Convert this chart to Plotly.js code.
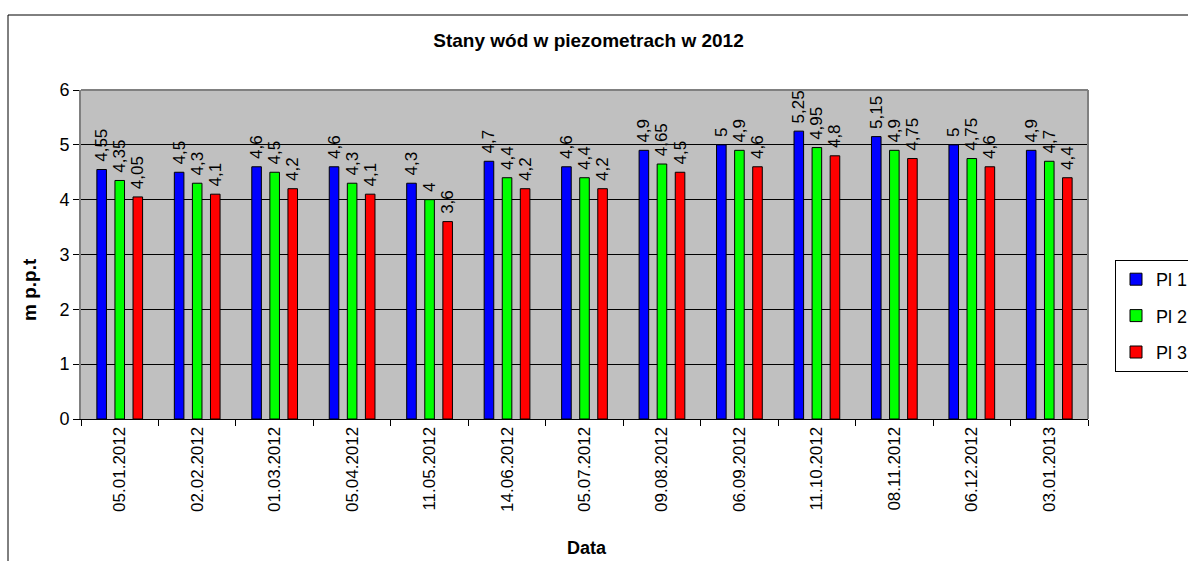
<!DOCTYPE html>
<html>
<head>
<meta charset="utf-8">
<script src="https://cdn.plot.ly/plotly-3.0.1.min.js"></script>
<style>html,body{margin:0;padding:0;background:#fff;}#chart{width:1188px;height:561px;}</style>
</head>
<body>
<div id="chart"></div>
<script>
const categories = ["05.01.2012","02.02.2012","01.03.2012","05.04.2012","11.05.2012","14.06.2012","05.07.2012","09.08.2012","06.09.2012","11.10.2012","08.11.2012","06.12.2012","03.01.2013"];
const pl1 = [4.55, 4.5, 4.6, 4.6, 4.3, 4.7, 4.6, 4.9, 5, 5.25, 5.15, 5, 4.9];
const pl2 = [4.35, 4.3, 4.5, 4.3, 4, 4.4, 4.4, 4.65, 4.9, 4.95, 4.9, 4.75, 4.7];
const pl3 = [4.05, 4.1, 4.2, 4.1, 3.6, 4.2, 4.2, 4.5, 4.6, 4.8, 4.75, 4.6, 4.4];
const seriesNames = ["Pl 1", "Pl 2", "Pl 3"];
const seriesColors = ["#0000FF", "#00FF00", "#FF0000"];
const yTicks = [0, 1, 2, 3, 4, 5, 6];

const FONT = "Liberation Sans, Arial, sans-serif";
const fmt = v => '\u00a0' + String(v).replace('.', ',');

const traces = [pl1, pl2, pl3].map((vals, i) => ({
  type: 'bar',
  name: seriesNames[i],
  legendgroup: 'g' + i,
  x: categories,
  y: vals,
  text: vals.map(fmt),
  textposition: 'outside',
  textangle: -90,
  constraintext: 'none',
  cliponaxis: false,
  textfont: {family: FONT, size: 17, color: '#000'},
  marker: {color: seriesColors[i], line: {color: '#000', width: 1}},
  hoverinfo: 'none'
}));

const layout = {
  width: 1188, height: 561,
  margin: {l: 81, r: 100, t: 90, b: 142, autoexpand: false},
  paper_bgcolor: '#fff',
  plot_bgcolor: '#C0C0C0',
  font: {family: FONT, color: '#000'},
  barmode: 'group',
  bargap: 0.30,
  bargroupgap: 0.47,
  title: {text: '<b>Stany wód w piezometrach w 2012</b>', font: {family: FONT, size: 19, color: '#000'},
          x: 0.504, xref: 'paper', xanchor: 'center', y: 1 - 40/561, yanchor: 'middle'},
  xaxis: {
    type: 'category', tickangle: -90, tickson: 'boundaries', ticks: 'outside', ticklen: 6,
    tickcolor: '#000', tickwidth: 1, tickfont: {family: FONT, size: 17, color: '#000'},
    showline: true, linecolor: '#000', linewidth: 1, mirror: false, showgrid: false, zeroline: false,
    automargin: false
  },
  yaxis: {
    range: [0, 6], tickvals: yTicks, ticktext: yTicks.map(String), ticks: 'outside', ticklen: 6,
    tickcolor: '#000', tickfont: {family: FONT, size: 18, color: '#000'},
    showline: true, linecolor: '#808080', linewidth: 2, mirror: false,
    showgrid: true, gridcolor: '#000', gridwidth: 1, zeroline: false, automargin: false
  },
  showlegend: true,
  legend: {
    x: (1115 - 81) / 1007, xanchor: 'left', y: (419 - 260) / 329, yanchor: 'top',
    bgcolor: '#fff', bordercolor: '#000', borderwidth: 1,
    font: {family: FONT, size: 18, color: '#000'},
    traceorder: 'grouped', tracegroupgap: 10, itemwidth: 30
  },
  annotations: [
    {text: '<b>Data</b>', xref: 'paper', yref: 'paper', x: (587 - 81) / 1007, y: (419 - 548) / 329,
     xanchor: 'center', yanchor: 'middle', showarrow: false, font: {family: FONT, size: 18, color: '#000'}},
    {text: '<b>m p.p.t</b>', xref: 'paper', yref: 'paper', x: (29 - 81) / 1007, y: (419 - 290) / 329,
     xanchor: 'center', yanchor: 'middle', textangle: -90, showarrow: false, font: {family: FONT, size: 19, color: '#000'}}
  ],
  shapes: [
    {type: 'line', xref: 'paper', yref: 'paper', x0: 0, x1: 1, y0: 1, y1: 1, line: {color: '#808080', width: 2}},
    {type: 'line', xref: 'paper', yref: 'paper', x0: 1, x1: 1, y0: 0, y1: 1, line: {color: '#808080', width: 2}},
    {type: 'rect', xref: 'paper', yref: 'paper', x0: (8 - 81) / 1007, x1: 1.2, y0: (419 - 566) / 329, y1: (419 - 15) / 329,
     line: {color: '#000', width: 1}, fillcolor: 'rgba(0,0,0,0)', layer: 'below'}
  ]
};

Plotly.newPlot('chart', traces, layout, {staticPlot: true, displayModeBar: false});
</script>
</body>
</html>
